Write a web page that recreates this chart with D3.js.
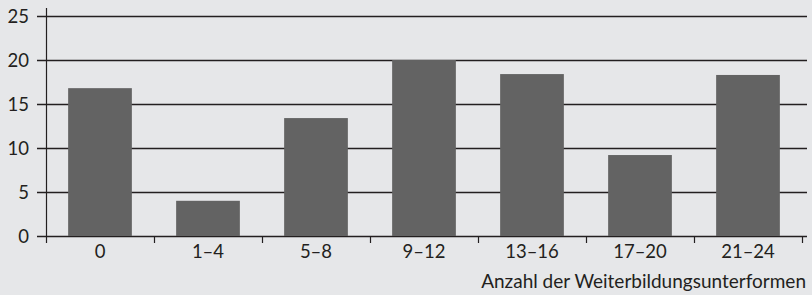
<!DOCTYPE html>
<html>
<head>
<meta charset="utf-8">
<script src="https://cdn.jsdelivr.net/npm/d3@7"></script>
<style>
  html, body { margin: 0; padding: 0; background: #e6e7e9; }
  svg { display: block; font-family: Lato, "Open Sans", sans-serif; }
</style>
</head>
<body>
<div id="chart"></div>
<script>
// Daten
const categories = ['0', '1–4', '5–8', '9–12', '13–16', '17–20', '21–24'];
const values     = [16.8, 4.0, 13.4, 20.0, 18.4, 9.2, 18.3];
const yTicks     = [0, 5, 10, 15, 20, 25];
const xTitle     = 'Anzahl der Weiterbildungsunterformen';

const width  = 812;
const height = 295;
const margin = { top: 16, right: 6, bottom: 59, left: 46 };
const ink = '#231f20';
const fs = 18.5;

const svg = d3.select('#chart').append('svg')
  .attr('width', width)
  .attr('height', height);

svg.append('rect').attr('width', width).attr('height', height).attr('fill', '#e6e7e9');

const x = d3.scaleBand()
  .domain(categories)
  .range([margin.left, width - margin.right - 4])
  .paddingInner(0.41)
  .paddingOuter(0.205);

const y = d3.scaleLinear()
  .domain([0, 25])
  .range([height - margin.bottom, margin.top]);

// Gitterlinien (hinter den Balken)
svg.append('g')
  .selectAll('line')
  .data(yTicks)
  .join('line')
  .attr('x1', 37)
  .attr('x2', 807)
  .attr('y1', d => Math.round(y(d)) + 0.5)
  .attr('y2', d => Math.round(y(d)) + 0.5)
  .attr('stroke', ink)
  .attr('stroke-width', 1.3);

// y-Achsenbeschriftung
svg.append('g')
  .selectAll('text')
  .data(yTicks)
  .join('text')
  .attr('x', 29)
  .attr('y', d => y(d))
  .attr('dy', '0.36em')
  .attr('text-anchor', 'end')
  .attr('font-size', fs)
  .attr('fill', ink)
  .text(d => d);

// Balken
svg.append('g')
  .selectAll('rect')
  .data(values)
  .join('rect')
  .attr('x', (d, i) => x(categories[i]))
  .attr('width', x.bandwidth())
  .attr('y', d => y(d))
  .attr('height', d => y(0) - y(d))
  .attr('fill', '#636363');

// y-Achse
svg.append('line')
  .attr('x1', margin.left + 0.5).attr('x2', margin.left + 0.5)
  .attr('y1', 8).attr('y2', 243)
  .attr('stroke', ink).attr('stroke-width', 1.2);

// x-Achse Teilstriche an Kategoriegrenzen
const bounds = d3.range(categories.length + 1).map(i => margin.left + i * (x.range()[1] - margin.left) / categories.length);
svg.append('g')
  .selectAll('line')
  .data(bounds.slice(1))
  .join('line')
  .attr('x1', d => Math.round(d) + 0.5)
  .attr('x2', d => Math.round(d) + 0.5)
  .attr('y1', y(0))
  .attr('y2', 243)
  .attr('stroke', ink)
  .attr('stroke-width', 1.2);

// Kategorienbeschriftung
svg.append('g')
  .selectAll('text')
  .data(categories)
  .join('text')
  .attr('x', d => x(d) + x.bandwidth() / 2)
  .attr('y', 258)
  .attr('text-anchor', 'middle')
  .attr('font-size', fs)
  .attr('fill', ink)
  .text(d => d);

// Achsentitel
svg.append('text')
  .attr('x', 806)
  .attr('y', 288)
  .attr('text-anchor', 'end')
  .attr('font-size', 19)
  .attr('fill', ink)
  .text(xTitle);
</script>
</body>
</html>
